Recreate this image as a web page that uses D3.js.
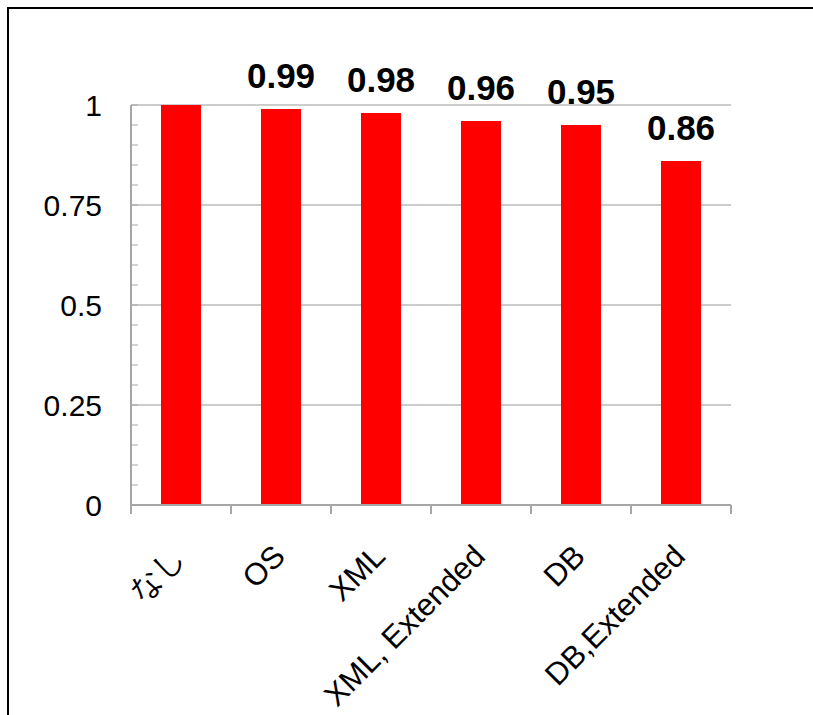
<!DOCTYPE html>
<html><head><meta charset="utf-8">
<script src="https://cdn.jsdelivr.net/npm/d3@7"></script>
<style>body{margin:0;background:#fff}svg{display:block}</style>
</head><body>
<svg id="c" width="813" height="715"></svg>
<script>
const categories = ["なし", "OS", "XML", "XML, Extended", "DB", "DB,Extended"];
const values = [1.0, 0.99, 0.98, 0.96, 0.95, 0.86];
const dataLabels = [null, "0.99", "0.98", "0.96", "0.95", "0.86"];
const yTicks = [0, 0.25, 0.5, 0.75, 1];
const yTickLabels = ["0", "0.25", "0.5", "0.75", "1"];
const minorTicks = d3.range(0, 1.0001, 0.05);

const svg = d3.select("#c");
const font = "'Liberation Sans', Arial, sans-serif";

// outer frame (right and bottom edges lie outside the picture)
svg.append("rect").attr("x", 8).attr("y", 8).attr("width", 830).attr("height", 740)
  .attr("fill", "none").attr("stroke", "#000").attr("stroke-width", 2);

const x = d3.scaleBand().domain(categories).range([131, 731]).paddingInner(0.6).paddingOuter(0.3);
const xb = d3.scaleBand().domain(categories).range([131, 731]);
const y = d3.scaleLinear().domain([0, 1]).range([505, 105]);

// gridlines
svg.append("g").selectAll("line").data(yTicks.filter(d => d > 0)).join("line")
  .attr("x1", 131).attr("x2", 731).attr("y1", d => y(d)).attr("y2", d => y(d))
  .attr("stroke", "#999").attr("stroke-width", 1);

// minor ticks (inside)
svg.append("g").selectAll("line").data(minorTicks).join("line")
  .attr("x1", 131).attr("x2", 138).attr("y1", d => y(d)).attr("y2", d => y(d))
  .attr("stroke", "#a6a6a6").attr("stroke-width", 1);

// bars
svg.append("g").selectAll("rect").data(values).join("rect")
  .attr("x", (d, i) => x(categories[i])).attr("width", x.bandwidth())
  .attr("y", d => y(d)).attr("height", d => y(0) - y(d))
  .attr("fill", "#ff0000");

// axes
svg.append("line").attr("x1", 131).attr("x2", 131).attr("y1", 105).attr("y2", 505)
  .attr("stroke", "#a6a6a6").attr("stroke-width", 2);
svg.append("line").attr("x1", 130).attr("x2", 731).attr("y1", 505).attr("y2", 505)
  .attr("stroke", "#a6a6a6").attr("stroke-width", 2);
const boundaries = categories.map(c => xb(c)).concat([xb.range()[1]]);
svg.append("g").selectAll("line").data(boundaries).join("line")
  .attr("x1", d => d).attr("x2", d => d).attr("y1", 505).attr("y2", 514)
  .attr("stroke", "#a6a6a6").attr("stroke-width", 2);

// y labels
svg.append("g").selectAll("text").data(yTicks).join("text")
  .attr("x", 102).attr("y", d => y(d)).attr("dy", "0.36em")
  .attr("text-anchor", "end").attr("font-family", font).attr("font-size", 30)
  .attr("fill", "#000").text((d, i) => yTickLabels[i]);

// data labels
svg.append("g").selectAll("text").data(values).join("text")
  .attr("x", (d, i) => xb(categories[i]) + xb.bandwidth() / 2)
  .attr("y", d => y(d) - 21)
  .attr("text-anchor", "middle").attr("font-family", font).attr("font-weight", "bold")
  .attr("font-size", 35).attr("fill", "#000")
  .text((d, i) => dataLabels[i] || "");

// x labels
svg.append("g").selectAll("text").data(categories).join("text")
  .attr("transform", d => `translate(${xb(d) + xb.bandwidth() / 2 + 6},558) rotate(-45)`)
  .attr("text-anchor", "end").attr("font-family", font).attr("font-size", 31)
  .attr("fill", "#000").text(d => d);
</script>
</body></html>
